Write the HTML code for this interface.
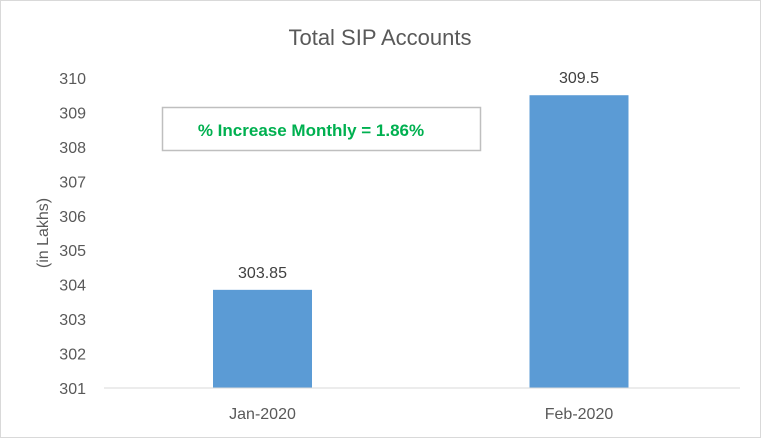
<!DOCTYPE html>
<html><head><meta charset="utf-8"><style>
body{margin:0;background:#fff}
svg{display:block;font-family:"Liberation Sans",sans-serif}
</style></head><body>
<svg width="761" height="438">
<rect x="0.5" y="0.5" width="760" height="437" fill="#fff" stroke="#d9d9d9"/>
<text x="380" y="45" font-size="22" fill="#595959" text-anchor="middle">Total SIP Accounts</text>
<text transform="translate(48,233) rotate(-90)" font-size="16" fill="#595959" text-anchor="middle">(in Lakhs)</text>
<g id="yt"></g><g id="bars"></g>
<line x1="104" y1="388" x2="740" y2="388" stroke="#d9d9d9"/>
<rect x="162.5" y="107.5" width="318" height="43" fill="#fff" stroke="#bfbfbf" stroke-width="1.5"/>
<text x="311" y="136" font-size="17" font-weight="bold" fill="#00b050" text-anchor="middle">% Increase Monthly = 1.86%</text>
</svg>
<script>
const categories=["Jan-2020","Feb-2020"];
const values=[303.85,309.5];
const valueLabels=["303.85","309.5"];
const ticks=[301,302,303,304,305,306,307,308,309,310];
const ns="http://www.w3.org/2000/svg";
const y=v=>388-(v-301)*(310/9);
const xc=i=>104+(i+0.5)*(636/2)-14;
const yt=document.getElementById('yt'),bg=document.getElementById('bars');
ticks.forEach(t=>{const e=document.createElementNS(ns,'text');


e.setAttribute('x',86);e.setAttribute('y',y(t)+6);e.setAttribute('font-size','16');e.setAttribute('fill','#595959');e.setAttribute('text-anchor','end');e.textContent=t;yt.appendChild(e);});
categories.forEach((c,i)=>{const cx=i==0?262.5:579;
const r=document.createElementNS(ns,'rect');


r.setAttribute('x',cx-49.5);r.setAttribute('width',99);r.setAttribute('y',y(values[i]));r.setAttribute('height',388-y(values[i]));r.setAttribute('fill','#5b9bd5');bg.appendChild(r);
const l=document.createElementNS(ns,'text');


l.setAttribute('x',cx);l.setAttribute('y',y(values[i])-12);l.setAttribute('font-size','16');l.setAttribute('fill','#404040');l.setAttribute('text-anchor','middle');l.textContent=valueLabels[i];bg.appendChild(l);
const xl=document.createElementNS(ns,'text');


xl.setAttribute('x',cx);xl.setAttribute('y',419);xl.setAttribute('font-size','16');xl.setAttribute('fill','#595959');xl.setAttribute('text-anchor','middle');xl.textContent=c;bg.appendChild(xl);});
</script>
</body></html>
